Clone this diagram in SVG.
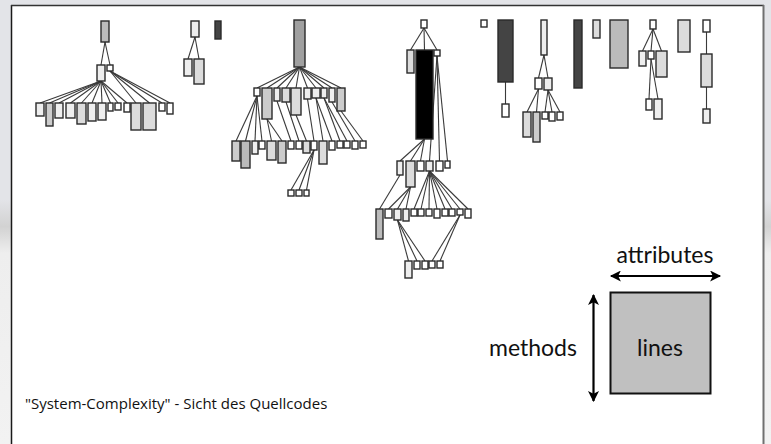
<svg xmlns="http://www.w3.org/2000/svg" width="771" height="444" viewBox="0 0 771 444">
<defs>
<linearGradient id="bg" x1="0" y1="0" x2="0" y2="1">
<stop offset="0" stop-color="#e3e4e8"/>
<stop offset="0.45" stop-color="#e3e4e8"/>
<stop offset="0.51" stop-color="#d2d2d2"/>
<stop offset="0.57" stop-color="#eeeeee"/>
<stop offset="1" stop-color="#f2f2f2"/>
</linearGradient>
<marker id="ah" viewBox="0 0 10 10" refX="9" refY="5" markerWidth="12" markerHeight="11" markerUnits="userSpaceOnUse" orient="auto-start-reverse">
<path d="M0,0 L10,5 L0,10 L2.5,5 Z" fill="#000"/>
</marker>
<style>
.n{stroke:#2a2a2a;stroke-width:1.4}
.f0{fill:#ffffff}.f1{fill:#eeeeee}.f2{fill:#dcdcdc}.f3{fill:#cccccc}.f4{fill:#bbbbbb}.f5{fill:#a0a0a0}.f6{fill:#444444}.f7{fill:#000000}
#edges line{stroke:#3a3a3a;stroke-width:1.1}
.lg{font-family:Lato,"Open Sans",sans-serif;font-size:23px;fill:#111}
.cap{font-family:"Open Sans","Liberation Sans",sans-serif;font-size:15px;fill:#111}
.arr{stroke:#000;stroke-width:2.2;fill:none}
</style>
</defs>
<rect x="0" y="0" width="771" height="444" fill="url(#bg)"/>
<rect x="11" y="5" width="753" height="450" fill="#fff"/>
<line x1="11.5" y1="5" x2="11.5" y2="444" stroke="#1a1a1a" stroke-width="1.5"/>
<line x1="11" y1="5.5" x2="764" y2="5.5" stroke="#333" stroke-width="1.5"/>
<line x1="763.5" y1="5" x2="763.5" y2="444" stroke="#707070" stroke-width="2"/>

<g id="edges">
<line x1="105" y1="42" x2="101" y2="65"/><line x1="105" y1="42" x2="110" y2="65"/>
<line x1="101" y1="81" x2="40" y2="103"/><line x1="101" y1="81" x2="49.5" y2="103"/><line x1="101" y1="81" x2="59" y2="103"/><line x1="101" y1="81" x2="70.5" y2="103"/><line x1="101" y1="81" x2="81.5" y2="103"/><line x1="101" y1="81" x2="92" y2="103"/><line x1="101" y1="81" x2="102" y2="103"/><line x1="101" y1="81" x2="110.5" y2="103"/><line x1="101" y1="81" x2="118" y2="103"/><line x1="101" y1="81" x2="127" y2="103"/>
<line x1="110" y1="71" x2="136" y2="103"/><line x1="110" y1="71" x2="149.5" y2="103"/><line x1="110" y1="71" x2="162" y2="103"/><line x1="110" y1="71" x2="170" y2="103"/>
<line x1="195" y1="37" x2="188" y2="59"/><line x1="195" y1="37" x2="199" y2="59"/>
<line x1="299.5" y1="67" x2="257" y2="88"/><line x1="299.5" y1="67" x2="267" y2="88"/><line x1="299.5" y1="67" x2="277" y2="88"/><line x1="299.5" y1="67" x2="286" y2="88"/><line x1="299.5" y1="67" x2="296" y2="88"/><line x1="299.5" y1="67" x2="307.5" y2="88"/><line x1="299.5" y1="67" x2="316" y2="88"/><line x1="299.5" y1="67" x2="324" y2="88"/><line x1="299.5" y1="67" x2="332" y2="88"/><line x1="299.5" y1="67" x2="341" y2="88"/>
<line x1="257" y1="96" x2="236" y2="141"/><line x1="257" y1="96" x2="245.5" y2="141"/><line x1="257" y1="96" x2="255" y2="141"/><line x1="257" y1="96" x2="262" y2="141"/>
<line x1="267" y1="119" x2="271.5" y2="141"/><line x1="267" y1="119" x2="282" y2="141"/>
<line x1="277" y1="101" x2="291" y2="141"/><line x1="286" y1="102" x2="299" y2="141"/><line x1="296" y1="115" x2="306.5" y2="141"/><line x1="307.5" y1="99" x2="314" y2="141"/>
<line x1="316" y1="98" x2="323" y2="141"/><line x1="316" y1="98" x2="332" y2="141"/>
<line x1="324" y1="98" x2="340" y2="141"/><line x1="324" y1="98" x2="347" y2="141"/>
<line x1="332" y1="102" x2="355" y2="141"/><line x1="341" y1="111" x2="363" y2="141"/>
<line x1="314" y1="150" x2="291" y2="190"/><line x1="314" y1="150" x2="299" y2="190"/><line x1="314" y1="150" x2="306.5" y2="190"/>
<line x1="424" y1="28" x2="410.5" y2="50"/><line x1="424" y1="28" x2="424.5" y2="50"/><line x1="424" y1="28" x2="437" y2="50"/>
<line x1="424.5" y1="139" x2="400" y2="161"/><line x1="424.5" y1="139" x2="410.5" y2="161"/><line x1="424.5" y1="139" x2="420.5" y2="161"/>
<line x1="437" y1="56" x2="429.5" y2="161"/><line x1="437" y1="56" x2="439.5" y2="161"/><line x1="437" y1="56" x2="447.5" y2="161"/>
<line x1="400" y1="175" x2="379.5" y2="209"/>
<line x1="410.5" y1="187" x2="388.5" y2="209"/><line x1="410.5" y1="187" x2="397.5" y2="209"/><line x1="410.5" y1="187" x2="406" y2="209"/>
<line x1="429.5" y1="171" x2="414" y2="209"/><line x1="429.5" y1="171" x2="421" y2="209"/><line x1="429.5" y1="171" x2="429" y2="209"/><line x1="429.5" y1="171" x2="437" y2="209"/><line x1="429.5" y1="171" x2="445" y2="209"/><line x1="429.5" y1="171" x2="452" y2="209"/><line x1="429.5" y1="171" x2="460" y2="209"/><line x1="429.5" y1="171" x2="468" y2="209"/>
<line x1="397.5" y1="220" x2="408.5" y2="261"/><line x1="397.5" y1="220" x2="417" y2="261"/><line x1="397.5" y1="220" x2="425" y2="261"/>
<line x1="460" y1="215" x2="432" y2="261"/><line x1="460" y1="215" x2="440" y2="261"/>
<line x1="505.5" y1="82" x2="505.5" y2="104"/>
<line x1="544" y1="55" x2="538.5" y2="78"/><line x1="544" y1="55" x2="548" y2="78"/>
<line x1="538.5" y1="89" x2="527" y2="112"/><line x1="538.5" y1="89" x2="536.5" y2="112"/>
<line x1="548" y1="90" x2="545" y2="112"/><line x1="548" y1="90" x2="552" y2="112"/><line x1="548" y1="90" x2="560" y2="112"/>
<line x1="653" y1="29" x2="642.5" y2="51"/><line x1="653" y1="29" x2="651" y2="51"/><line x1="653" y1="29" x2="661.5" y2="51"/>
<line x1="651" y1="59" x2="649" y2="99"/><line x1="651" y1="59" x2="658" y2="99"/>
<line x1="706.5" y1="32" x2="706.5" y2="54"/><line x1="706.5" y1="87" x2="706.5" y2="109"/>
</g>

<g id="t1-root"><rect class="n f4" x="101" y="21" width="8" height="21"/></g>
<g id="t1-a"><rect class="n f1" x="97" y="65" width="8" height="16"/></g>
<g id="t1-b"><rect class="n f0" x="107" y="65" width="6" height="6"/></g>
<g id="t1-c1"><rect class="n f1" x="36" y="103" width="8" height="13"/></g>
<g id="t1-c2"><rect class="n f3" x="46" y="103" width="7" height="23"/></g>
<g id="t1-c3"><rect class="n f1" x="55" y="103" width="8" height="15"/></g>
<g id="t1-c4"><rect class="n f1" x="66" y="103" width="9" height="15"/></g>
<g id="t1-c5"><rect class="n f2" x="77" y="103" width="9" height="21"/></g>
<g id="t1-c6"><rect class="n f1" x="88" y="103" width="8" height="18"/></g>
<g id="t1-c7"><rect class="n f1" x="98" y="103" width="8" height="17"/></g>
<g id="t1-c8"><rect class="n f0" x="108" y="103" width="5" height="8"/></g>
<g id="t1-c9"><rect class="n f0" x="115" y="103" width="6" height="7"/></g>
<g id="t1-c10"><rect class="n f0" x="124" y="103" width="6" height="9"/></g>
<g id="t1-c11"><rect class="n f2" x="131" y="103" width="10" height="27"/></g>
<g id="t1-c12"><rect class="n f2" x="143" y="103" width="13" height="27"/></g>
<g id="t1-c13"><rect class="n f0" x="159" y="103" width="6" height="8"/></g>
<g id="t1-c14"><rect class="n f0" x="167" y="103" width="6" height="11"/></g>

<g id="t2-root"><rect class="n f1" x="191" y="21" width="8" height="16"/></g>
<g id="t2-c1"><rect class="n f1" x="184" y="59" width="8" height="17"/></g>
<g id="t2-c2"><rect class="n f2" x="194" y="59" width="10" height="25"/></g>
<g id="solo-dark1"><rect class="n f6" x="215" y="21" width="6" height="18"/></g>

<g id="t3-root"><rect class="n f5" x="294" y="20" width="11" height="47"/></g>
<g id="t3-k1"><rect class="n f0" x="254" y="88" width="6" height="8"/></g>
<g id="t3-k2"><rect class="n f3" x="262" y="88" width="10" height="31"/></g>
<g id="t3-k3"><rect class="n f1" x="274" y="88" width="6" height="13"/></g>
<g id="t3-k4"><rect class="n f2" x="282" y="88" width="8" height="14"/></g>
<g id="t3-k5"><rect class="n f2" x="291" y="88" width="10" height="27"/></g>
<g id="t3-k6"><rect class="n f1" x="304" y="88" width="7" height="11"/></g>
<g id="t3-k7"><rect class="n f1" x="312" y="88" width="8" height="10"/></g>
<g id="t3-k8"><rect class="n f1" x="321" y="88" width="6" height="10"/></g>
<g id="t3-k9"><rect class="n f1" x="329" y="88" width="6" height="14"/></g>
<g id="t3-k10"><rect class="n f3" x="337" y="88" width="8" height="23"/></g>
<g id="t3-g1"><rect class="n f3" x="232" y="141" width="8" height="20"/></g>
<g id="t3-g2"><rect class="n f4" x="241" y="141" width="9" height="27"/></g>
<g id="t3-g3"><rect class="n f1" x="252" y="141" width="6" height="13"/></g>
<g id="t3-g4"><rect class="n f0" x="259" y="141" width="6" height="8"/></g>
<g id="t3-g5"><rect class="n f2" x="267" y="141" width="9" height="19"/></g>
<g id="t3-g6"><rect class="n f3" x="278" y="141" width="8" height="22"/></g>
<g id="t3-g7"><rect class="n f0" x="288" y="141" width="6" height="8"/></g>
<g id="t3-g8"><rect class="n f0" x="296" y="141" width="6" height="8"/></g>
<g id="t3-g9"><rect class="n f2" x="303" y="141" width="7" height="12"/></g>
<g id="t3-g10"><rect class="n f0" x="311" y="141" width="6" height="9"/></g>
<g id="t3-g11"><rect class="n f2" x="319" y="141" width="8" height="23"/></g>
<g id="t3-g12"><rect class="n f0" x="329" y="141" width="6" height="9"/></g>
<g id="t3-g13"><rect class="n f0" x="337" y="141" width="6" height="7"/></g>
<g id="t3-g14"><rect class="n f0" x="344" y="141" width="6" height="7"/></g>
<g id="t3-g15"><rect class="n f0" x="352" y="141" width="6" height="8"/></g>
<g id="t3-g16"><rect class="n f0" x="360" y="141" width="6" height="7"/></g>
<g id="t3-h1"><rect class="n f0" x="288" y="190" width="6" height="6"/></g>
<g id="t3-h2"><rect class="n f0" x="296" y="190" width="6" height="6"/></g>
<g id="t3-h3"><rect class="n f0" x="304" y="190" width="5" height="6"/></g>

<g id="t4-root"><rect class="n f0" x="421" y="20" width="6" height="8"/></g>
<g id="t4-c1"><rect class="n f2" x="407" y="50" width="7" height="23"/></g>
<g id="t4-c2"><rect class="n f7" x="416" y="50" width="17" height="89"/></g>
<g id="t4-c3"><rect class="n f0" x="434" y="50" width="6" height="6"/></g>
<g id="t4-a1"><rect class="n f1" x="397" y="161" width="6" height="14"/></g>
<g id="t4-a2"><rect class="n f2" x="406" y="161" width="9" height="26"/></g>
<g id="t4-a3"><rect class="n f0" x="417" y="161" width="7" height="10"/></g>
<g id="t4-a4"><rect class="n f1" x="426" y="161" width="7" height="10"/></g>
<g id="t4-a5"><rect class="n f0" x="436" y="161" width="7" height="10"/></g>
<g id="t4-a6"><rect class="n f0" x="445" y="161" width="5" height="7"/></g>
<g id="t4-b1"><rect class="n f4" x="376" y="209" width="7" height="30"/></g>
<g id="t4-b2"><rect class="n f0" x="385" y="209" width="7" height="9"/></g>
<g id="t4-b3"><rect class="n f1" x="394" y="209" width="7" height="11"/></g>
<g id="t4-b4"><rect class="n f1" x="403" y="209" width="6" height="12"/></g>
<g id="t4-b5"><rect class="n f0" x="411" y="209" width="6" height="7"/></g>
<g id="t4-b6"><rect class="n f0" x="418" y="209" width="6" height="7"/></g>
<g id="t4-b7"><rect class="n f0" x="426" y="209" width="6" height="7"/></g>
<g id="t4-b8"><rect class="n f0" x="434" y="209" width="6" height="9"/></g>
<g id="t4-b9"><rect class="n f0" x="442" y="209" width="6" height="7"/></g>
<g id="t4-b10"><rect class="n f0" x="449" y="209" width="6" height="7"/></g>
<g id="t4-b11"><rect class="n f0" x="457" y="209" width="6" height="6"/></g>
<g id="t4-b12"><rect class="n f0" x="465" y="209" width="6" height="9"/></g>
<g id="t4-r1"><rect class="n f1" x="405" y="261" width="7" height="17"/></g>
<g id="t4-r2"><rect class="n f0" x="414" y="261" width="6" height="8"/></g>
<g id="t4-r3"><rect class="n f0" x="422" y="261" width="6" height="8"/></g>
<g id="t4-r4"><rect class="n f0" x="429" y="261" width="6" height="7"/></g>
<g id="t4-r5"><rect class="n f0" x="437" y="261" width="6" height="7"/></g>

<g id="solo-sq1"><rect class="n f0" x="481" y="20" width="6" height="7"/></g>
<g id="t5-root"><rect class="n f6" x="498" y="20" width="15" height="62"/></g>
<g id="t5-c1"><rect class="n f0" x="502" y="104" width="7" height="13"/></g>
<g id="t6-root"><rect class="n f1" x="541" y="20" width="6" height="35"/></g>
<g id="t6-m1"><rect class="n f0" x="535" y="78" width="7" height="11"/></g>
<g id="t6-m2"><rect class="n f1" x="544" y="78" width="8" height="12"/></g>
<g id="t6-n1"><rect class="n f2" x="523" y="112" width="8" height="25"/></g>
<g id="t6-n2"><rect class="n f3" x="533" y="112" width="7" height="30"/></g>
<g id="t6-n3"><rect class="n f0" x="542" y="112" width="6" height="7"/></g>
<g id="t6-n4"><rect class="n f0" x="549" y="112" width="6" height="9"/></g>
<g id="t6-n5"><rect class="n f0" x="557" y="112" width="6" height="8"/></g>
<g id="solo-dark2"><rect class="n f6" x="574" y="20" width="8" height="68"/></g>
<g id="solo-light1"><rect class="n f2" x="593" y="20" width="7" height="18"/></g>
<g id="solo-grey1"><rect class="n f4" x="610" y="20" width="18" height="48"/></g>
<g id="t7-root"><rect class="n f0" x="650" y="20" width="6" height="9"/></g>
<g id="t7-p1"><rect class="n f1" x="639" y="51" width="7" height="15"/></g>
<g id="t7-p2"><rect class="n f0" x="648" y="51" width="6" height="8"/></g>
<g id="t7-p3"><rect class="n f2" x="656" y="51" width="11" height="26"/></g>
<g id="t7-q1"><rect class="n f0" x="646" y="99" width="6" height="11"/></g>
<g id="t7-q2"><rect class="n f1" x="654" y="99" width="8" height="20"/></g>
<g id="solo-light2"><rect class="n f2" x="678" y="20" width="12" height="32"/></g>
<g id="t8-u1"><rect class="n f0" x="703" y="20" width="7" height="12"/></g>
<g id="t8-u2"><rect class="n f2" x="701" y="54" width="11" height="33"/></g>
<g id="t8-u3"><rect class="n f1" x="703" y="109" width="7" height="14"/></g>

<g id="legend">
<rect x="610.5" y="292.5" width="100" height="101" fill="#c0c0c0" stroke="#111" stroke-width="2"/>
<text class="lg" x="660" y="356" text-anchor="middle">lines</text>
<text class="lg" x="665" y="263" text-anchor="middle">attributes</text>
<text class="lg" x="533" y="356" text-anchor="middle">methods</text>
<line class="arr" x1="611" y1="276" x2="720" y2="276" marker-start="url(#ah)" marker-end="url(#ah)"/>
<line class="arr" x1="593.5" y1="295" x2="593.5" y2="401" marker-start="url(#ah)" marker-end="url(#ah)"/>
</g>
<text class="cap" x="25" y="409">"System-Complexity" - Sicht des Quellcodes</text>
</svg>
